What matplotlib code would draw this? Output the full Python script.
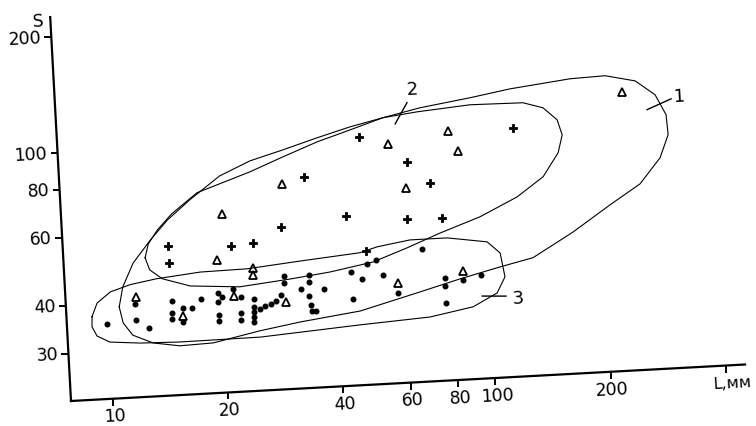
import matplotlib
matplotlib.use("Agg")
import matplotlib.pyplot as plt
from matplotlib.transforms import Affine2D, offset_copy
from matplotlib.markers import TICKDOWN, TICKLEFT

FONT = ["DejaVu Sans"]

# --- data (L in mm, S) ---
dot_L = [9.9, 11.8, 11.8, 12.7, 14.7, 14.7, 14.6, 15.7, 15.6, 16.6,
         17.5, 19.4, 19.9, 19.4, 19.4, 19.4, 21.3, 22.3, 22.2, 22.1,
         24.1, 24.0, 24.0, 23.9, 23.9, 24.9, 25.7, 26.6, 27.5, 28.4,
         29.1, 29.0, 32.0, 33.8, 33.7, 33.6, 33.8, 34.0, 34.8, 36.8,
         43.5, 43.6, 46.4, 48.0, 50.7, 52.6, 57.3, 67.1, 76.3, 76.1,
         76.1, 85.0, 94.8]
dot_S = [35.4, 39.5, 35.9, 34.1, 39.7, 37.0, 35.7, 38.0, 34.9, 37.9,
         39.8, 41.1, 40.0, 38.9, 36.0, 34.7, 41.9, 39.8, 36.2, 34.7,
         39.1, 37.3, 36.2, 35.2, 34.1, 36.8, 37.4, 37.8, 38.4, 39.8,
         44.5, 42.7, 40.9, 44.4, 42.6, 39.1, 37.1, 35.8, 35.7, 40.6,
         44.6, 37.9, 42.6, 46.6, 47.5, 43.4, 38.7, 50.0, 41.7, 39.8,
         35.9, 41.0, 42.0]

plus_L = [47.7, 63.1, 33.8, 72.0, 43.0, 61.9, 76.4, 29.0, 14.6, 21.4, 24.4, 14.6, 47.9, 120.5]
plus_S = [99.8, 84.6, 80.0, 74.1, 62.5, 60.2, 59.8, 59.7, 55.3, 54.2, 54.8, 50.0, 50.4, 100.2]

tri_L = [234.7, 81.5, 56.6, 86.0, 29.6, 62.2, 20.4, 19.5, 24.2, 24.1, 11.9, 21.4, 29.2, 15.6, 57.5, 85.2]
tri_S = [120.0, 100.5, 94.9, 88.9, 77.3, 72.5, 65.8, 50.1, 47.2, 45.2, 41.2, 40.1, 38.1, 36.2, 41.1, 43.3]

# outlines of the three groups
c1_L = [10.7, 11.0, 11.8, 13.2, 14.7, 16.9, 20.4, 24.6, 30.1, 37.0, 45.3, 55.4, 69.4,
        94.0, 119.8, 172.5, 213.0, 254.7, 285.7, 303.2, 305.0, 288.4, 253.6, 210.5,
        167.0, 130.3, 106.6, 83.5, 65.4, 45.4, 31.5, 24.7, 18.6, 15.2, 12.95, 11.5, 10.9]
c1_S = [39.0, 43.9, 50.5, 57.7, 64.6, 72.3, 82.7, 89.6, 94.7, 100.6, 106.3, 111.1, 116.5,
        121.7, 126.7, 132.0, 132.9, 127.6, 116.7, 103.2, 91.5, 79.9, 68.8, 61.3,
        52.7, 45.8, 43.8, 41.3, 38.7, 35.2, 33.6, 32.3, 30.5, 30.3, 31.1, 32.8, 35.4]

c2_L = [12.7, 13.0, 13.8, 15.1, 17.7, 24.5, 30.0, 37.0, 45.3, 55.4, 68.1, 93.8, 129.0,
        145.2, 157.4, 161.5, 156.7, 142.1, 120.7, 96.0, 75.2, 61.4, 49.8, 38.4, 30.1,
        22.2, 16.5, 14.0, 13.0]
c2_S = [51.9, 56.3, 61.1, 66.9, 75.3, 83.9, 90.8, 98.2, 104.4, 111.1, 113.8, 116.7, 116.1,
        111.9, 103.7, 94.6, 85.1, 74.1, 66.2, 59.5, 54.7, 50.6, 47.0, 44.9, 43.6,
        42.3, 43.2, 45.5, 48.2]

c3_L = [9.06, 9.38, 10.2, 11.5, 13.5, 17.6, 23.3, 32.2, 46.2, 51.3, 62.6, 78.3, 99.4,
        107.1, 109.4, 103.8, 89.5, 68.9, 45.2, 24.7, 15.2, 12.0, 10.0, 9.28, 9.03]
c3_S = [37.1, 40.2, 42.8, 44.4, 45.6, 46.8, 47.0, 48.4, 49.9, 51.4, 53.0, 53.0, 51.1,
        47.6, 41.2, 37.5, 34.8, 33.2, 32.4, 31.1, 31.0, 31.2, 31.7, 33.0, 34.9]

x_ticks = [10, 20, 40, 60, 80, 100, 200, 400]
x_labels = ["10", "20", "40", "60", "80", "100", "200", ""]
y_ticks = [30, 40, 60, 80, 100, 200]
y_labels = ["30", "40", "60", "80", "100", "200"]

X_LIM = (7.77, 449.0)
Y_LIM = (22.56, 226.0)

fig = plt.figure(figsize=(7.56, 4.26), dpi=100)
ax = fig.add_axes([71 / 756, 25 / 426, 675 / 756, 384.5 / 426])
ax.set_xscale("log")
ax.set_yscale("log")
ax.set_xlim(*X_LIM)
ax.set_ylim(*Y_LIM)
ax.axis("off")

# the scanned page is turned a little, so rotate everything around the corner
ANGLE = 3.1
px, py = ax.transAxes.transform((0, 0))
tr = ax.transData + Affine2D().rotate_deg_around(px, py, ANGLE)

def txt(x, y, s, dx, dy, size=12.5, **kw):
    ax.text(x, y, s, transform=offset_copy(tr, fig=fig, x=dx, y=dy, units="dots"),
            rotation=ANGLE, rotation_mode="anchor", fontsize=size, family=FONT,
            clip_on=False, **kw)

# axes
ax.plot(X_LIM, [Y_LIM[0]] * 2, color="k", lw=1.6, transform=tr, clip_on=False)
ax.plot([X_LIM[0]] * 2, Y_LIM, color="k", lw=1.6, transform=tr, clip_on=False)
ax.plot(x_ticks, [Y_LIM[0]] * len(x_ticks), ls="none", marker=TICKDOWN, ms=5, mew=1.4,
        color="k", transform=tr, clip_on=False)
ax.plot([X_LIM[0]] * len(y_ticks), y_ticks, ls="none", marker=TICKLEFT, ms=5, mew=1.4,
        color="k", transform=tr, clip_on=False)
for t, s in zip(x_ticks, x_labels):
    txt(t, Y_LIM[0], s, 2, -23, ha="center", va="baseline")
for t, s in zip(y_ticks, y_labels):
    txt(X_LIM[0], t, s, -10, -6, ha="right", va="baseline")
txt(x_ticks[-1], Y_LIM[0], "L,мм", 26, -21, size=11.5, ha="right", va="baseline")
txt(X_LIM[0], Y_LIM[1], "S", -12, -10, ha="center", va="baseline")

# group outlines
for cl, cs in [(c1_L, c1_S), (c2_L, c2_S), (c3_L, c3_S)]:
    ax.plot(cl + cl[:1], cs + cs[:1], color="k", lw=0.8, transform=tr, clip_on=False)

# outline labels
ax.plot([270.9, 314.1], [107.0, 113.3], color="k", lw=1.0, transform=tr, clip_on=False)
txt(332, 115.7, "1", 0, -7, size=13, ha="center", va="baseline")
ax.plot([59.5, 64.3], [106.7, 120.6], color="k", lw=1.0, transform=tr, clip_on=False)
txt(66.6, 131.6, "2", 0, -7, size=13, ha="center", va="baseline")
ax.plot([94.8, 109.4], [37.0, 36.7], color="k", lw=1.0, transform=tr, clip_on=False)
txt(117.6, 36.4, "3", 0, -7, size=13, ha="center", va="baseline")

# points
ax.plot(dot_L, dot_S, ls="none", marker="o", ms=3.3, color="k", transform=tr, clip_on=False)
ax.plot(plus_L, plus_S, ls="none", marker="P", ms=6.3, mew=0.6, color="k", transform=tr, clip_on=False)
ax.plot(tri_L, tri_S, ls="none", marker="^", ms=6, mfc="none", mec="k", mew=1.3,
        transform=tr, clip_on=False)

fig.savefig("out.png", dpi=100)
